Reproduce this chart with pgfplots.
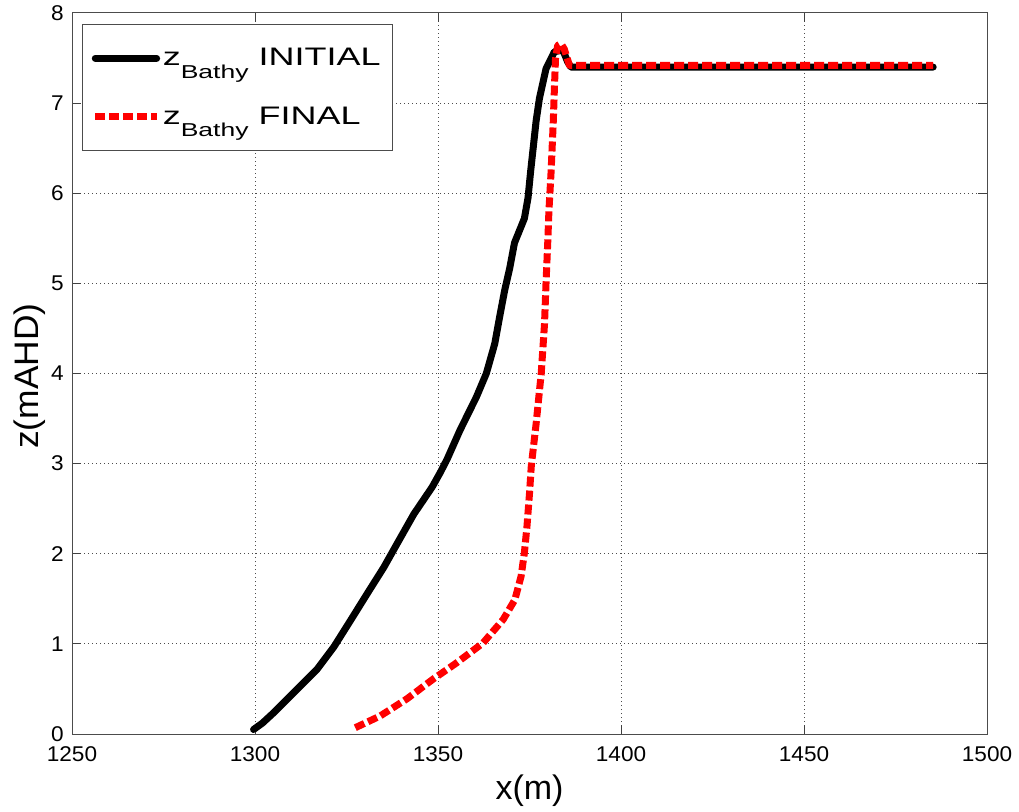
\documentclass[border=0pt]{standalone}
\usepackage{pgfplots}
\pgfplotsset{compat=1.18}
\usepackage{fontspec}
\setmainfont{Liberation Sans}
\newfontfamily\legfont[FakeStretch=1.42]{Liberation Sans}
\newfontfamily\labfont[FakeStretch=1.04]{Liberation Sans}
\newfontfamily\tickfont[FakeStretch=1.06]{Liberation Sans}
\begin{document}
\begin{tikzpicture}
\begin{axis}[
  at={(0,0)}, anchor=south west,
  width=686.25pt, height=540.75pt, scale only axis,
  xmin=1250, xmax=1500, ymin=0, ymax=8,
  xtick={1250,1300,...,1500}, ytick={0,1,...,8},
  /pgf/number format/1000 sep={},
  /pgf/number format/assume math mode=true,
  tick pos=both, tick align=inside,
  major tick length=6.75pt,
  every tick/.style={black!75, line width=0.75pt},
  axis line style={black!70, line width=0.75pt},
  grid=major,
  grid style={black!70, line width=0.75pt, dash pattern=on 0.75pt off 2.25pt},
  ticklabel style={font=\tickfont\fontsize{16}{16}\selectfont},
  xticklabel style={inner sep=0pt, yshift=-9pt},
  yticklabel style={inner sep=0pt, xshift=-6pt},
  xlabel={x(m)}, ylabel={z(mAHD)},
  every axis x label/.style={at={(axis description cs:0.5,-0.079)}, anchor=center, font=\fontsize{25.5}{25.5}\selectfont},
  every axis y label/.style={at={(axis description cs:-0.0459,0.4965)}, rotate=90, anchor=center, font=\labfont\fontsize{25.5}{25.5}\selectfont},
  legend style={at={(rel axis cs:0.0109,0.9847)}, anchor=north west,
    draw=black!70, line width=0.75pt, fill=white,
    font=\legfont\fontsize{19}{19}\selectfont,
    inner xsep=7pt, inner ysep=16pt, row sep=25pt,
    /tikz/every odd column/.append style={column sep=0pt}},
  legend cell align=left,
  legend image code/.code={\draw[#1] (0pt,0pt) -- (46pt,0pt);},
]
\addplot[black, line width=5.25pt, line join=round, line cap=round] coordinates {
(1299.6,0.05) (1302,0.12) (1305.2,0.24) (1311.6,0.50) (1317,0.72) (1321.6,0.97)
(1326.1,1.26) (1330.7,1.56) (1335.2,1.85) (1338.8,2.11) (1343.4,2.44) (1348.4,2.74)
(1350.6,2.90) (1352.5,3.05) (1356,3.37) (1360.5,3.74) (1363.2,4.00) (1365.5,4.33)
(1366.8,4.62) (1368.2,4.92) (1369.6,5.17) (1370.9,5.45) (1372.1,5.57) (1373.6,5.72)
(1374.6,5.95) (1375.3,6.24) (1376.8,6.80) (1377.7,7.05) (1379.5,7.38) (1381.8,7.57)
(1384.1,7.59) (1385.4,7.46) (1386.3,7.40) (1485.3,7.40)
};
\addlegendentry{z\raisebox{-9.5pt}{\fontsize{14}{14}\selectfont Bathy} INITIAL}
\addplot[red, line width=5.25pt, line join=round, dash pattern=on 7.5pt off 3pt] coordinates {
(1327.4,0.07) (1334.2,0.20) (1341.5,0.39) (1348.7,0.61) (1355.1,0.79) (1362.3,1.01)
(1367.8,1.27) (1371,1.49) (1372.7,1.75) (1373.6,2.01) (1374.3,2.30) (1375,2.67)
(1375.5,2.98) (1376.8,3.44) (1378.2,4.00) (1379.1,4.55) (1379.5,4.99) (1380,5.47)
(1380.3,5.80) (1380.9,6.24) (1381.5,6.80) (1381.8,7.16) (1382.1,7.49) (1382.7,7.64)
(1383.6,7.66) (1384.5,7.60) (1385.9,7.42) (1485.3,7.42)
};
\addlegendentry{z\raisebox{-9.5pt}{\fontsize{14}{14}\selectfont Bathy} FINAL}
\end{axis}
\pgfresetboundingbox
\path[use as bounding box] (-54pt,-57.75pt) rectangle (710.25pt,550.5pt);
\end{tikzpicture}
\end{document}
